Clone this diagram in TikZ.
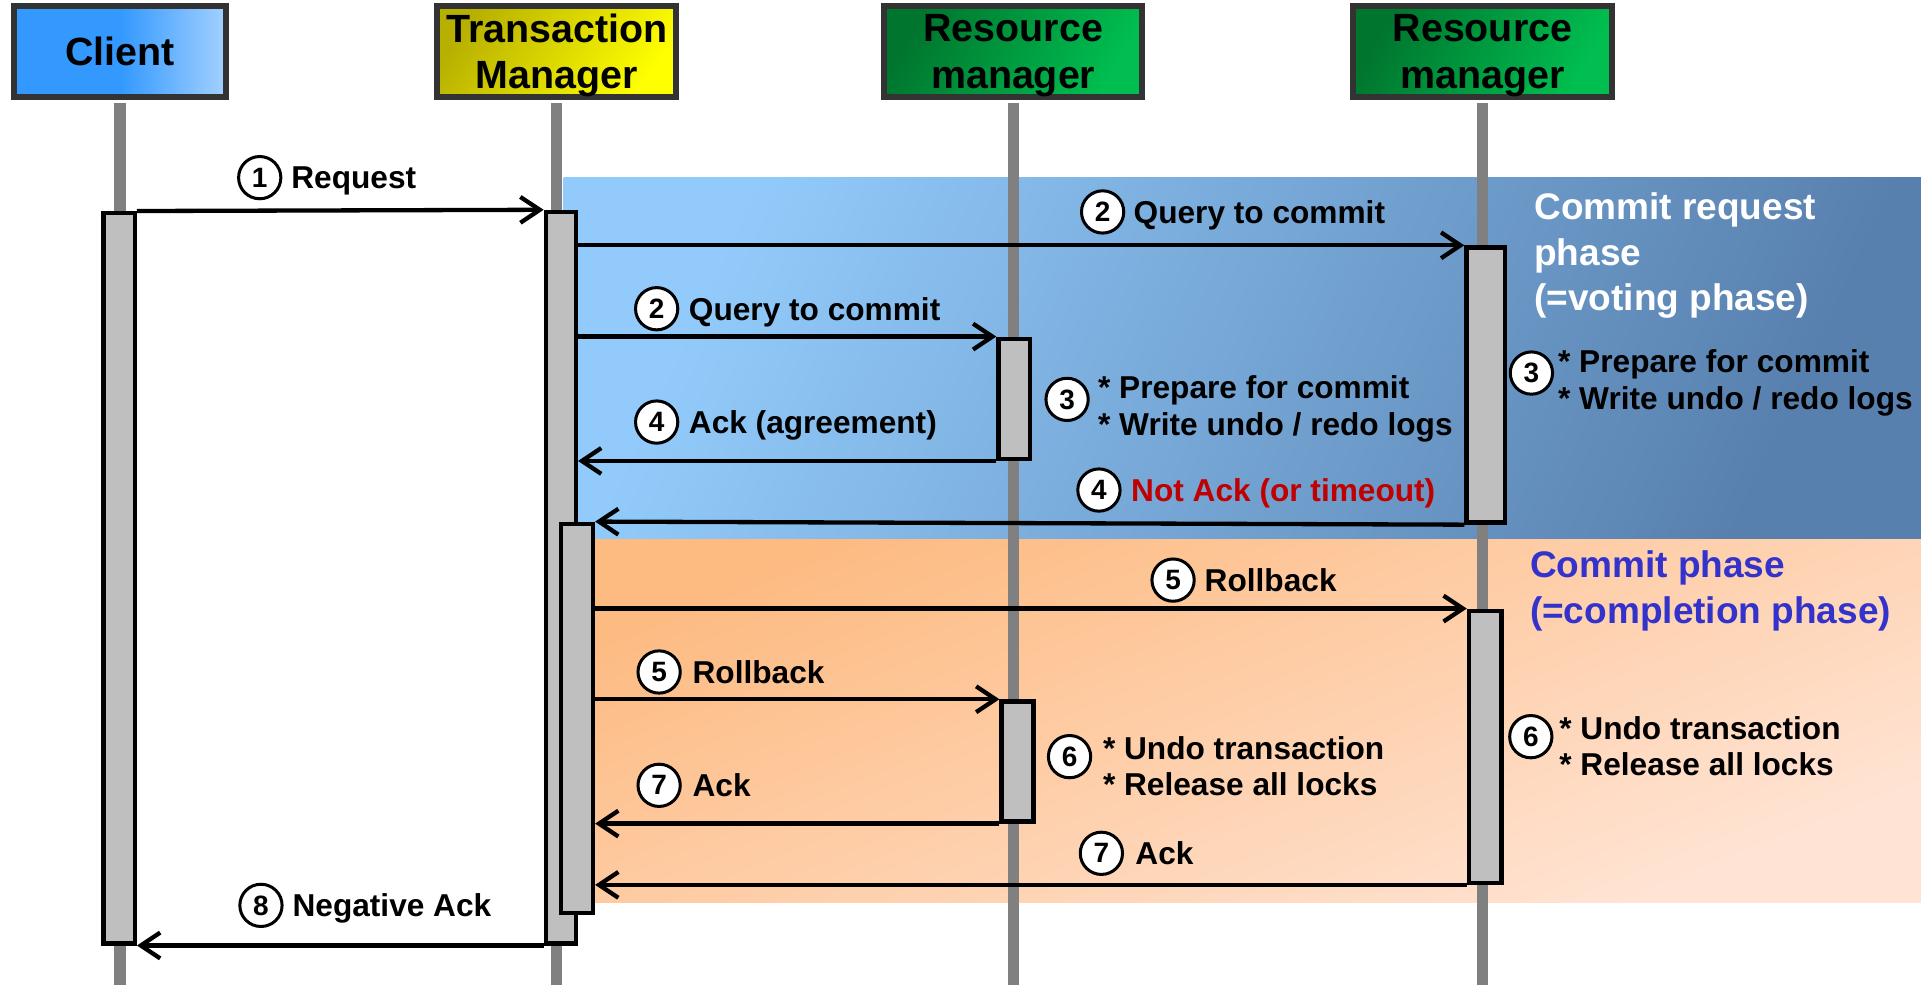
\documentclass[tikz,border=0pt]{standalone}
\usepackage{fontspec}
\setmainfont{Liberation Sans}
\usetikzlibrary{arrows.meta,positioning,fit}

\definecolor{lifegray}{HTML}{808080}
\definecolor{bargray}{HTML}{BFBFBF}
\definecolor{headframe}{HTML}{333333}
\definecolor{clientblue}{HTML}{3399FF}
\definecolor{clientlight}{HTML}{A3D1FF}
\definecolor{tmdark}{HTML}{B8B000}
\definecolor{tmlight}{HTML}{FFFF00}
\definecolor{rmdark}{HTML}{00752E}
\definecolor{rmlight}{HTML}{00BF50}
\definecolor{voteleft}{HTML}{92CBFB}
\definecolor{voteright}{HTML}{5880AE}
\definecolor{doneleft}{HTML}{FDBB82}
\definecolor{doneright}{HTML}{FFE4D5}
\definecolor{nackred}{HTML}{C00000}
\definecolor{phaseblue}{HTML}{3333CC}

\begin{document}
\begin{tikzpicture}[
    x=0.02cm, y=-0.02cm,
    >={Straight Barb[length=9pt,width=12pt]},
    head/.style  = {draw=headframe, line width=2.8pt, minimum height=1.48cm, inner sep=0pt,
                    text depth=0pt, align=center, font=\fontsize{18.3}{21.6}\selectfont\bfseries},
    life/.style  = {draw=lifegray, line width=5.2pt},
    bar/.style   = {draw, fill=bargray, line width=2pt, inner sep=0pt},
    msg/.style   = {->, line width=2pt},
    num/.style   = {draw, circle, fill=white, line width=1.4pt, minimum size=0.69cm, inner sep=0pt,
                    font=\fontsize{13}{13}\selectfont\bfseries},
    lbl/.style   = {inner sep=0pt, text height=10.5pt, text depth=0pt,
                    font=\fontsize{14.7}{17}\selectfont\bfseries},
    note/.style  = {inner sep=0pt, align=left, yshift=-4.5pt,
                    font=\fontsize{14.7}{17}\selectfont\bfseries},
    phase/.style = {inner sep=0pt, align=left, anchor=north west,
                    font=\fontsize{17.2}{21}\selectfont\bfseries},
  ]
  \useasboundingbox (0,0) rectangle (1568,804);

  % phases
  \shade[left color=voteleft, right color=voteright, shading angle=65] (460,145) rectangle (1568,440);
  \shade[left color=doneleft, right color=doneright, shading angle=22] (484,440) rectangle (1568,737);

  % participants
  \node[head, minimum width=3.46cm, left color=clientblue, right color=clientlight, middle color=clientblue]
    (client) at (98,42) {Client};
  \node[head, minimum width=3.9cm, left color=tmdark, right color=tmlight, shading angle=55]
    (tm) at (454.5,42) {Transaction\\Manager};
  \node[head, minimum width=4.22cm, left color=rmdark, right color=rmlight, shading angle=60]
    (rm1) at (827,42) {Resource\\manager};
  \node[head, minimum width=4.22cm, left color=rmdark, right color=rmlight, shading angle=60]
    (rm2) at (1210,42) {Resource\\manager};

  % lifelines
  \foreach \who in {client,tm,rm1,rm2}
    \draw[life, shorten <=1.4pt] (\who.south) -- (\who.south |- 0,804);

  % activation bars
  \node[bar, fit={(84.5,174) (110,770)}]       (cbar)    {};
  \node[bar, fit={(445.5,173) (470,770)}]      (tmbar)   {};
  \node[bar, fit={(458,427.5) (484,745)}]      (tmbar2)  {};
  \node[bar, fit={(815,276.5) (840.5,374.5)}]  (rm1bar)  {};
  \node[bar, fit={(1197,202) (1228.5,426.5)}]  (rm2bar)  {};
  \node[bar, fit={(817.5,572.5) (843.5,670.5)}] (rm1bar2) {};
  \node[bar, fit={(1199,498.5) (1225.5,720.5)}] (rm2bar2) {};

  % messages
  \draw[msg] (cbar.north east) -- (tmbar.north west);
  \draw[msg] (tmbar.east |- rm2bar.north) -- (rm2bar.north west);
  \draw[msg] (tmbar.east |- rm1bar.north) -- (rm1bar.north west);
  \draw[msg] (rm1bar.south west) -- (tmbar.east |- rm1bar.south);
  \draw[msg] (rm2bar.south west) -- (tmbar2.north east);
  \draw[msg] (tmbar2.east |- rm2bar2.north) -- (rm2bar2.north west);
  \draw[msg] (tmbar2.east |- rm1bar2.north) -- (rm1bar2.north west);
  \draw[msg] (rm1bar2.south west) -- (tmbar2.east |- rm1bar2.south);
  \draw[msg] (rm2bar2.south west) -- (tmbar2.east |- rm2bar2.south);
  \draw[msg] (tmbar.south west) -- (cbar.south east);

  % message labels
  \node[num] (n1) at (212,145) {1};
  \node[lbl, right=0.14cm of n1] (t1) {Request};
  \node[num] (n2a) at (900,173) {2};
  \node[lbl, right=0.13cm of n2a] (t2a) {Query to commit};
  \node[num] (n2b) at (536,252) {2};
  \node[lbl, right=0.15cm of n2b] (t2b) {Query to commit};
  \node[num] (n4a) at (536,344.5) {4};
  \node[lbl, right=0.15cm of n4a] (t4a) {Ack (agreement)};
  \node[num] (n4b) at (897,400) {4};
  \node[lbl, right=0.15cm of n4b, text=nackred] (t4b) {Not Ack (or timeout)};
  \node[num] (n5a) at (957.5,473.5) {5};
  \node[lbl, right=0.14cm of n5a] (t5a) {Rollback};
  \node[num] (n5b) at (538,548.5) {5};
  \node[lbl, right=0.17cm of n5b] (t5b) {Rollback};
  \node[num] (n7a) at (538,641) {7};
  \node[lbl, right=0.17cm of n7a] (t7a) {Ack};
  \node[num] (n7b) at (899,696.5) {7};
  \node[lbl, right=0.18cm of n7b] (t7b) {Ack};
  \node[num] (n8) at (213,739) {8};
  \node[lbl, right=0.14cm of n8] (t8) {Negative Ack};

  % local work of the resource managers
  \node[num] (n3a) at (871,326) {3};
  \node[note, right=0.13cm of n3a] (t3a) {* Prepare for commit\\* Write undo / redo logs};
  \node[num] (n3b) at (1250,304.5) {3};
  \node[note, right=0.06cm of n3b] (t3b) {* Prepare for commit\\* Write undo / redo logs};
  \node[num] (n6a) at (873,617.6) {6};
  \node[note, right=0.17cm of n6a] (t6a) {* Undo transaction\\* Release all locks};
  \node[num] (n6b) at (1249.5,601.3) {6};
  \node[note, right=0.09cm of n6b] (t6b) {* Undo transaction\\* Release all locks};

  % phase names
  \node[phase, text=white] (vote) at (1252,157.2) {Commit request\\phase\\(=voting phase)};
  \node[phase, text=phaseblue] (done) at (1248.5,449.5) {Commit phase\\(=completion phase)};

\end{tikzpicture}
\end{document}
